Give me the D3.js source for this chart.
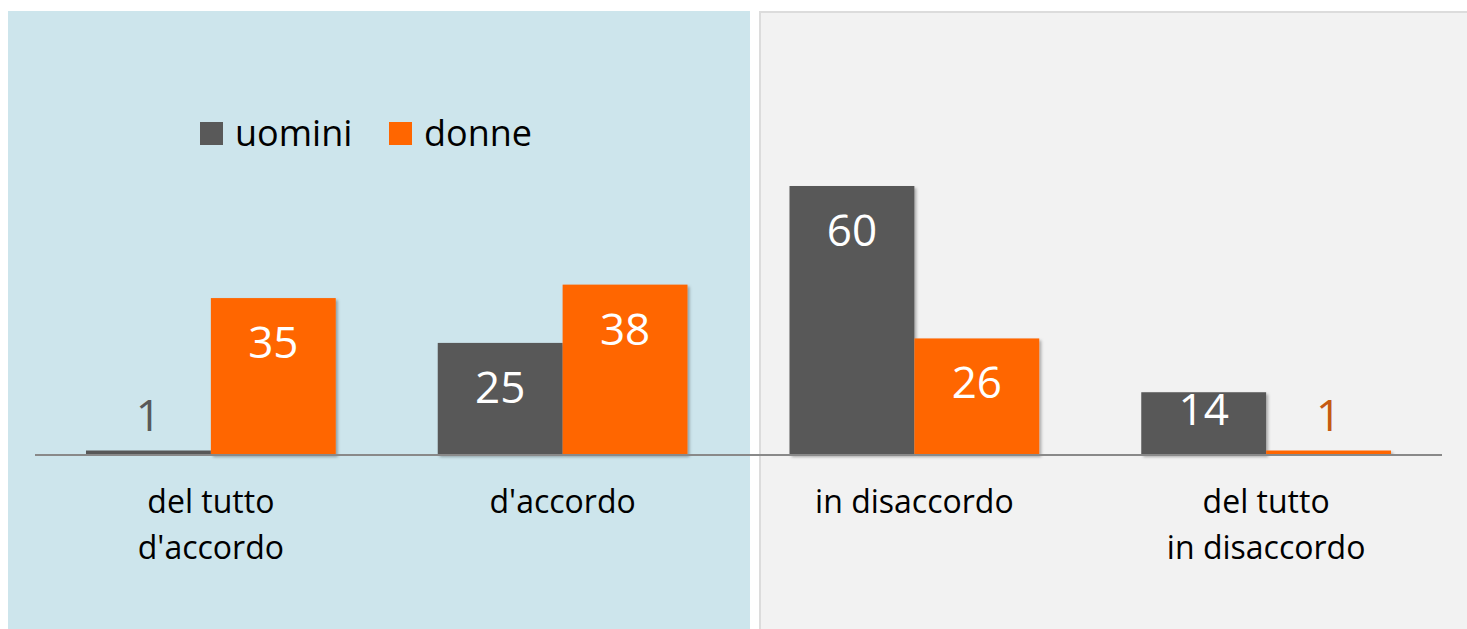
<!DOCTYPE html>
<html>
<head>
<meta charset="utf-8">
<script src="https://cdn.jsdelivr.net/npm/d3@7"></script>
<style>
  html, body { margin: 0; padding: 0; background: #ffffff; }
  svg { display: block; font-family: "Open Sans", sans-serif; }
</style>
</head>
<body>
<div id="chart"></div>
<script>
// Dati del grafico
const categorie = [["del tutto", "d'accordo"], ["d'accordo"], ["in disaccordo"], ["del tutto", "in disaccordo"]];
const serie = ["uomini", "donne"];
const uomini = [1, 25, 60, 14];
const donne = [35, 38, 26, 1];

const colori = { uomini: "#595959", donne: "#ff6600" };
const coloriEtichettaFuori = { uomini: "#595959", donne: "#c55a11" };

const width = 1467, height = 629;

const svg = d3.select("#chart").append("svg")
    .attr("width", width)
    .attr("height", height);

// Ombra leggera delle barre
const defs = svg.append("defs");
const filtro = defs.append("filter").attr("id", "ombra")
    .attr("x", "-10%").attr("y", "-10%").attr("width", "130%").attr("height", "130%");
filtro.append("feDropShadow")
    .attr("dx", 2).attr("dy", 2).attr("stdDeviation", 1.5)
    .attr("flood-color", "#000").attr("flood-opacity", 0.3);

// Pannelli di sfondo
svg.append("rect")
    .attr("x", 8).attr("y", 11).attr("width", 742).attr("height", height - 11)
    .attr("fill", "#cde5ec");
svg.append("rect")
    .attr("x", 760).attr("y", 12).attr("width", width - 760 + 5).attr("height", height)
    .attr("fill", "#f2f2f2")
    .attr("stroke", "#dcdcdc").attr("stroke-width", 2);

// Scale
const baseY = 455;
const x0 = d3.scaleBand()
    .domain(d3.range(categorie.length))
    .range([35, 1442])
    .paddingInner(0.29)
    .paddingOuter(0.145);
const x1 = d3.scaleBand()
    .domain(serie)
    .range([0, x0.bandwidth()]);
const y = d3.scaleLinear()
    .domain([0, 60])
    .range([baseY, 186]);

const dati = categorie.map((c, i) => ({
    indice: i,
    valori: [
        { serie: "uomini", valore: uomini[i] },
        { serie: "donne", valore: donne[i] }
    ]
}));

// Barre
const gruppi = svg.append("g").selectAll("g")
    .data(dati)
    .join("g")
    .attr("transform", d => `translate(${x0(d.indice)},0)`);

gruppi.selectAll("rect")
    .data(d => d.valori)
    .join("rect")
    .attr("x", d => x1(d.serie))
    .attr("y", d => y(d.valore))
    .attr("width", x1.bandwidth())
    .attr("height", d => baseY - y(d.valore))
    .attr("fill", d => colori[d.serie])
    .attr("filter", "url(#ombra)");

// Etichette dei valori
gruppi.selectAll("text.valore")
    .data(d => d.valori)
    .join("text")
    .attr("class", "valore")
    .attr("x", d => x1(d.serie) + x1.bandwidth() / 2)
    .attr("y", d => {
        const top = y(d.valore);
        const h = baseY - top;
        if (h < 30) return top - 20;
        if (h < 100) return top + 33;
        return top + 60;
    })
    .attr("text-anchor", "middle")
    .attr("font-size", 44)
    .attr("fill", d => (baseY - y(d.valore)) < 30 ? coloriEtichettaFuori[d.serie] : "#ffffff")
    .text(d => d.valore);

// Asse orizzontale
svg.append("line")
    .attr("x1", 35).attr("x2", 1442)
    .attr("y1", baseY).attr("y2", baseY)
    .attr("stroke", "#898989").attr("stroke-width", 2);

// Etichette delle categorie
const etichette = svg.append("g").selectAll("text")
    .data(categorie)
    .join("text")
    .attr("x", (d, i) => x0(i) + x0.bandwidth() / 2)
    .attr("y", 513)
    .attr("text-anchor", "middle")
    .attr("font-size", 32)
    .attr("fill", "#000000");

etichette.selectAll("tspan")
    .data(d => d)
    .join("tspan")
    .attr("x", function () { return d3.select(this.parentNode).attr("x"); })
    .attr("dy", (d, i) => i === 0 ? 0 : 46)
    .text(d => d);

// Legenda
const legenda = svg.append("g");
const posLegenda = [200, 389];
serie.forEach((s, i) => {
    legenda.append("rect")
        .attr("x", posLegenda[i]).attr("y", 122)
        .attr("width", 23).attr("height", 23)
        .attr("fill", colori[s]);
    legenda.append("text")
        .attr("x", posLegenda[i] + 35).attr("y", 146)
        .attr("font-size", 36)
        .attr("fill", "#000000")
        .text(s);
});
</script>
</body>
</html>
